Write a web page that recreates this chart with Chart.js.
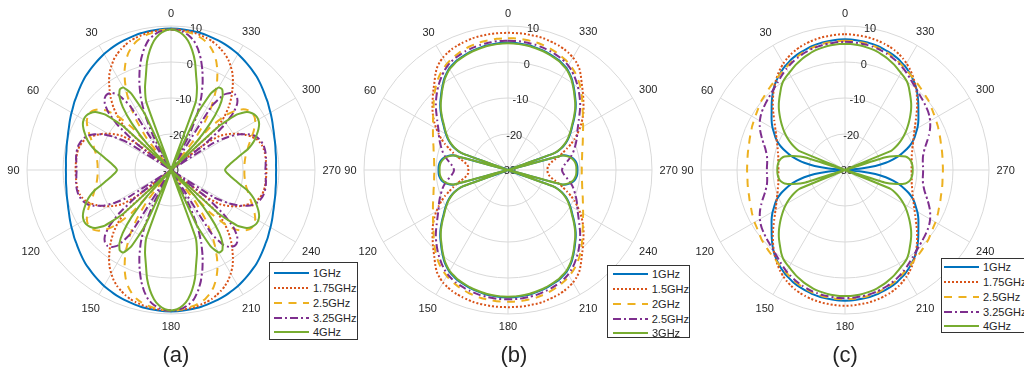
<!DOCTYPE html>
<html>
<head>
<meta charset="utf-8">
<script src="https://cdn.jsdelivr.net/npm/chart.js@4.4.1/dist/chart.umd.min.js"></script>
<style>
  html, body { margin: 0; padding: 0; background: #fff; }
  body { width: 1024px; height: 371px; position: relative; overflow: hidden;
         font-family: "Liberation Sans", Arial, sans-serif; color: #262626; }
  canvas { position: absolute; top: 0; }
  .legend { position: absolute; background: #fff; border: 1px solid #333; box-sizing: border-box;
            font-size: 11px; z-index: 2; }
  .legend .row { height: 14.75px; display: flex; align-items: center; white-space: nowrap; }
  .legend .row span { margin-left: 4px; }
  .caption { position: absolute; top: 344px; width: 60px; text-align: center;
             font-size: 22px; line-height: 22px; }
</style>
</head>
<body>
<canvas id="chartA" width="342" height="345" style="left:0px"></canvas>
<canvas id="chartB" width="342" height="345" style="left:337px"></canvas>
<canvas id="chartC" width="342" height="345" style="left:674px"></canvas>

<div class="legend" id="legendA" style="left:269px; top:262px; width:89px; height:78px; padding:3px 0 0 4px;"></div>
<div class="legend" id="legendB" style="left:607px; top:265px; width:83px; height:73px; padding:1px 0 0 5px;"></div>
<div class="legend" id="legendC" style="left:941px; top:258px; width:90px; height:75px; padding:1px 0 0 2px;"></div>

<div class="caption" style="left:146px">(a)</div>
<div class="caption" style="left:484px">(b)</div>
<div class="caption" style="left:815px">(c)</div>

<script>
  // patterns are read every 2.5 deg from 0 to 90 deg,
  // the plots are symmetric about both axes so the rest is mirrored
  var ANGLE_STEP = 2.5;
  var rTicks = [-30, -20, -10, 0, 10];

  var colors = ["#0072BD", "#D95319", "#EDB120", "#7E2F8E", "#77AC30"];
  var dashes = [[], [2, 2], [8, 6.5], [8, 3, 2, 3], []];

  // (a)
  var namesA = ["1GHz", "1.75GHz", "2.5GHz", "3.25GHz", "4GHz"];
  var a_1GHz = [9.3, 9.3, 9.2, 9.1, 9.0, 8.9, 8.7, 8.5, 8.3, 8.1, 7.8, 7.5, 7.2, 6.8, 6.4, 6.0, 5.6, 5.2, 4.7,
                4.2, 3.7, 3.2, 2.8, 2.3, 1.9, 1.5, 1.1, 0.7, 0.4, 0.1, -0.1, -0.3, -0.5, -0.6, -0.7, -0.8, -0.8];
  var a_175GHz = [9, 9, 8.9, 8.8, 8.6, 8.3, 8.0, 7.6, 7.0, 6.3, 5.5, 4.5, 3.2, 1.8, 0, -2, -4, -6.3, -9,
                  -13, -30, -18, -13.5, -11.5, -9.8, -8.3, -7, -5.8, -4.8, -4.2, -3.8, -3.6, -3.5, -3.5, -3.5, -3.5, -3.5];
  var a_25GHz = [9, 9, 8.8, 8.5, 8.2, 7.7, 7.0, 6.0, 4.6, 2.8, 0.5, -2.3, -5.5, -9, -13.5, -19, -30, -14, -8.5,
                 -5.5, -3.8, -2.8, -2.4, -2.5, -3, -3.8, -4.7, -5.7, -6.6, -7.4, -8, -8.6, -9, -9.3, -9.5, -9.6, -9.6];
  var a_325GHz = [9, 8.9, 8.5, 7.7, 6.5, 4.5, 2, -1, -4.3, -8, -12.5, -19, -30, -9, -4.5, -3, -2.5, -2.8, -4,
                  -6.5, -11, -18, -30, -16, -11.5, -8.5, -6.5, -5, -4.2, -3.7, -3.4, -3.3, -3.3, -3.4, -3.6, -3.7, -3.8];
  var a_4GHz = [9, 8.7, 7.8, 6.2, 3.8, 0.8, -3, -6, -10, -30, -13, -6, -3.5, -3.5, -5, -8, -13, -20, -30,
                -12, -6, -3.5, -2.5, -2, -2, -2.4, -3.2, -4.2, -5.2, -6.5, -8, -10, -11.5, -12.8, -13.8, -14.6, -15];

  // (b)
  var namesB = ["1GHz", "1.5GHz", "2GHz", "2.5GHz", "3GHz"];
  var b_1GHz = [5.4, 5.4, 5.3, 5.2, 5.1, 4.9, 4.7, 4.5, 4.2, 3.9, 3.6, 3.1, 2.6, 1.8, 0.9, -0.2, -1.3, -2.4, -3.4,
                -4.5, -5.7, -6.9, -8.1, -9.1, -10.1, -11.1, -12.3, -13.8, -16.3, -30, -14.2, -12.5, -11.6, -11.1, -10.8, -10.7, -10.7];
  var b_15GHz = [8.1, 8.1, 8.1, 8.1, 8.0, 8.0, 7.9, 7.7, 7.5, 7.3, 7.0, 6.6, 6.1, 5.4, 4.5, 3.2, 1.8, 0.6, -0.5,
                 -1.6, -2.6, -3.6, -4.7, -5.8, -7, -8.3, -9.6, -11, -12.6, -14, -15.3, -16.7, -17.8, -18.5, -18.9, -19, -19];
  var b_2GHz = [6.6, 6.6, 6.6, 6.5, 6.4, 6.3, 6.1, 5.9, 5.6, 5.3, 4.9, 4.5, 4.0, 3.4, 2.7, 1.9, 1.0, 0, -1.0,
                -2.0, -3.0, -3.8, -4.6, -5.3, -5.9, -6.5, -7, -7.5, -7.9, -8.3, -8.6, -8.9, -9.1, -9.3, -9.4, -9.5, -9.5];
  var b_25GHz = [5.9, 5.9, 5.9, 5.8, 5.7, 5.6, 5.4, 5.2, 5.0, 4.7, 4.4, 4.0, 3.5, 2.8, 2.0, 1.1, 0.2, -0.8, -1.8,
                 -2.8, -3.9, -5, -6, -6.9, -7.7, -8.3, -8.9, -9.5, -10.1, -10.7, -11.3, -12, -12.8, -13.6, -14.3, -14.8, -15];
  var b_3GHz = [5.2, 5.2, 5.1, 5.0, 4.9, 4.7, 4.5, 4.3, 4.0, 3.7, 3.4, 2.9, 2.4, 1.6, 0.7, -0.4, -1.5, -2.6, -3.6,
                -4.7, -5.9, -7.1, -8.3, -9.3, -10.3, -11.3, -12.5, -14, -16.5, -30, -14.5, -12.8, -11.9, -11.4, -11.1, -11, -11];

  // (c)
  var namesC = ["1GHz", "1.75GHz", "2.5GHz", "3.25GHz", "4GHz"];
  var c_1GHz = [6.3, 6.3, 6.2, 6.1, 6.0, 5.8, 5.6, 5.3, 5.0, 4.7, 4.3, 3.8, 3.3, 2.7, 2.0, 1.3, 0.5, -0.4, -1.4,
                -2.4, -3.4, -4.3, -5.1, -5.9, -6.8, -7.8, -8.7, -9.8, -11.1, -12.7, -14.3, -16.3, -18.5, -21.5, -25.5, -29, -30];
  var c_175GHz = [7.7, 7.7, 7.6, 7.5, 7.4, 7.2, 7.0, 6.7, 6.4, 6.0, 5.5, 4.9, 4.2, 3.4, 2.5, 1.5, 0.5, -0.6, -1.7,
                  -2.8, -3.9, -5, -6, -6.9, -7.7, -8.4, -9, -9.5, -10, -10.4, -10.7, -11, -11.2, -11.3, -11.4, -11.5, -11.5];
  var c_25GHz = [5.9, 5.9, 5.8, 5.7, 5.6, 5.4, 5.2, 4.9, 4.6, 4.2, 3.8, 3.3, 2.8, 2.4, 2.0, 1.6, 1.3, 1.0, 0.7,
                 0.4, 0.2, -0.2, -0.5, -0.8, -1.0, -1.3, -1.5, -1.8, -2.0, -2.2, -2.4, -2.5, -2.6, -2.7, -2.8, -2.8, -2.8];
  var c_325GHz = [5.6, 5.6, 5.5, 5.4, 5.3, 5.1, 4.9, 4.6, 4.3, 3.9, 3.5, 3.0, 2.5, 1.9, 1.3, 0.7, 0.2, -0.2, -0.6,
                  -0.9, -1.2, -1.5, -1.8, -2.2, -2.7, -3.3, -4.0, -4.8, -5.6, -6.4, -7.1, -7.6, -8.0, -8.2, -8.3, -8.3, -8.3];
  var c_4GHz = [5.0, 5.0, 4.9, 4.8, 4.6, 4.4, 4.1, 3.7, 3.3, 2.8, 2.3, 1.7, 1.1, 0.6, 0.0, -0.9, -2, -3, -4,
                -5.1, -6.3, -7.5, -8.7, -9.9, -11.2, -12.6, -14.2, -16.3, -30, -18.5, -15, -12.8, -11.9, -11.5, -11.3, -11.2, -11.2];

  // radar index i sits i*step clockwise from the top; the plot's angles run counter-clockwise
  var angleLabels = [];
  for (var i = 0; i < 360 / ANGLE_STEP; i++) angleLabels.push((360 - i * ANGLE_STEP) % 360);

  function fold(theta) {
    var t = theta % 180;
    return t > 90 ? 180 - t : t;
  }

  function fullPattern(quarter) {
    return angleLabels.map(function (th) {
      return quarter[Math.round(fold(th) / ANGLE_STEP)];
    });
  }

  // angle labels and radius labels, drawn under the curves
  var polarLabels = {
    id: "polarLabels",
    beforeDatasetsDraw: function (chart) {
      var s = chart.scales.r;
      var ctx = chart.ctx;
      ctx.save();
      ctx.font = '11px "Liberation Sans", Arial, sans-serif';
      ctx.fillStyle = "#262626";
      ctx.textAlign = "center";
      ctx.textBaseline = "middle";
      chart.data.labels.forEach(function (lab, i) {
        if (lab % 30 !== 0) return;
        var a = s.getIndexAngle(i);
        var w = ctx.measureText(String(lab)).width;
        var d = s.drawingArea + 7.5 + Math.abs(Math.sin(a)) * w / 2 + Math.abs(Math.cos(a)) * 5;
        var p = s.getPointPosition(i, d);
        ctx.fillText(String(lab), p.x, p.y + 0.5);
      });
      var ra = 10 * Math.PI / 180;
      rTicks.forEach(function (v) {
        var d = s.getDistanceFromCenterForValue(v);
        ctx.fillText(String(v), s.xCenter + d * Math.sin(ra), s.yCenter - d * Math.cos(ra) + 1);
      });
      ctx.restore();
    }
  };

  function makeChart(id, names, series) {
    var datasets = series.map(function (q, k) {
      return {
        label: names[k],
        data: fullPattern(q),
        borderColor: colors[k],
        backgroundColor: "rgba(0,0,0,0)",
        borderDash: dashes[k],
        borderWidth: 2,
        fill: false,
        order: series.length - k
      };
    });
    return new Chart(id, {
      type: "radar",
      data: { labels: angleLabels, datasets: datasets },
      options: {
        responsive: false,
        animation: false,
        layout: { padding: { left: 27, right: 27, top: 26, bottom: 31 } },
        plugins: { legend: { display: false }, tooltip: { enabled: false } },
        elements: {
          point: { radius: 0, hoverRadius: 0 },
          line: { tension: 0.15, borderJoinStyle: "round", borderCapStyle: "butt" }
        },
        scales: {
          r: {
            min: -30,
            max: 10,
            ticks: { display: false, stepSize: 10 },
            pointLabels: { display: false },
            grid: { circular: true, color: "#d9d9d9", lineWidth: 1 },
            angleLines: {
              color: "#d9d9d9",
              lineWidth: function (c) { return angleLabels[c.index] % 30 === 0 ? 1 : 0; }
            }
          }
        }
      },
      plugins: [polarLabels]
    });
  }

  function buildLegend(chart, el) {
    chart.data.datasets.forEach(function (ds) {
      var row = document.createElement("div");
      row.className = "row";
      var dash = ds.borderDash.length ? ds.borderDash.join(" ") : "none";
      row.innerHTML = '<svg width="35" height="4"><line x1="0" y1="2" x2="35" y2="2" stroke="' + ds.borderColor +
        '" stroke-width="2" stroke-dasharray="' + dash + '"/></svg><span>' + ds.label + "</span>";
      el.appendChild(row);
    });
  }

  var chartA = makeChart("chartA", namesA, [a_1GHz, a_175GHz, a_25GHz, a_325GHz, a_4GHz]);
  var chartB = makeChart("chartB", namesB, [b_1GHz, b_15GHz, b_2GHz, b_25GHz, b_3GHz]);
  var chartC = makeChart("chartC", namesC, [c_1GHz, c_175GHz, c_25GHz, c_325GHz, c_4GHz]);

  buildLegend(chartA, document.getElementById("legendA"));
  buildLegend(chartB, document.getElementById("legendB"));
  buildLegend(chartC, document.getElementById("legendC"));
</script>
</body>
</html>
